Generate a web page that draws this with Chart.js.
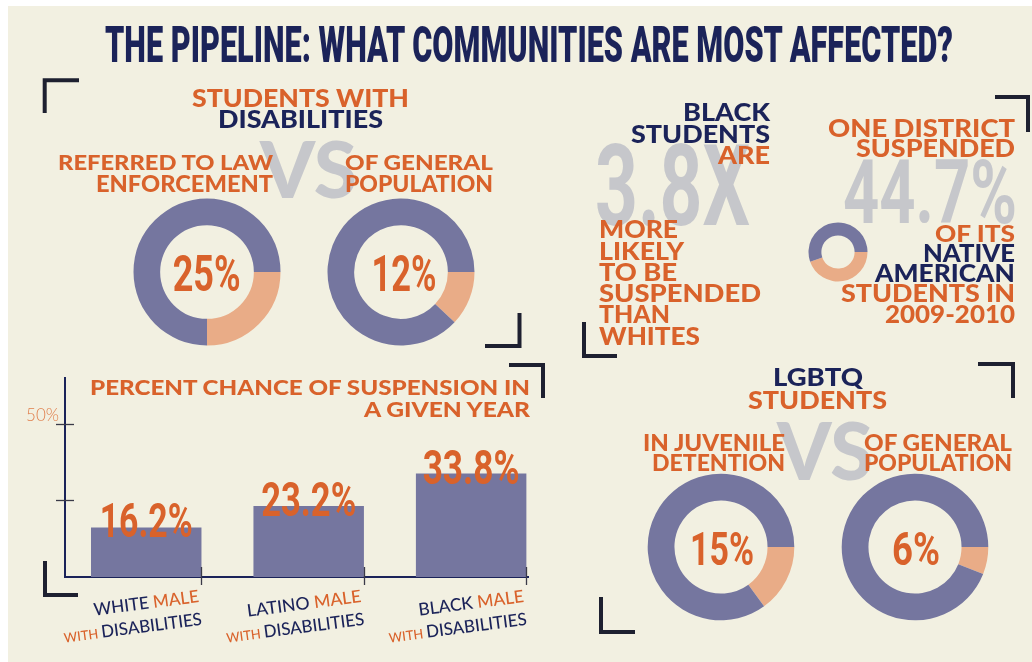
<!DOCTYPE html>
<html><head><meta charset="utf-8">
<script src="https://cdn.jsdelivr.net/npm/chart.js@4.4.1/dist/chart.umd.min.js"></script>
<style>
html,body{margin:0;padding:0;background:#fff;width:1032px;height:662px;overflow:hidden}
#panel{position:absolute;left:8px;top:6px;width:1024px;height:656px;background:#f2f0e1}
canvas{position:absolute}
#ov{position:absolute;left:0;top:0;pointer-events:none}
</style></head><body>
<div id="panel"></div>
<canvas id="dis0" width="160" height="160"></canvas>
<canvas id="dis1" width="160" height="160"></canvas>
<canvas id="nat0" width="70" height="70"></canvas>
<canvas id="lgb0" width="160" height="160"></canvas>
<canvas id="lgb1" width="160" height="160"></canvas>
<canvas id="bars" width="545" height="240"></canvas>
<svg id="ov" width="1032" height="662" xmlns="http://www.w3.org/2000/svg"></svg>
<script>
// ---------------- DATA ----------------
const disabilityShares = [25, 12];
const disabilityCaptions = [["REFERRED TO LAW", "ENFORCEMENT"], ["OF GENERAL", "POPULATION"]];
const lgbtqShares = [15, 6];
const lgbtqCaptions = [["IN JUVENILE", "DETENTION"], ["OF GENERAL", "POPULATION"]];
const nativeSuspendedShare = [44.7];
const blackSuspensionRatio = [3.8];
const barGroups = ["WHITE", "LATINO", "BLACK"];
const barValues = [16.2, 23.2, 33.8];
const yTickValues = [25, 50];
const yTickLabels = ["", "50%"];

// ---------------- STYLE ----------------
const NAVY = '#1b2359', ORANGE = '#d9622b', PURPLE = '#75769f', PEACH = '#e9ac87',
      GRAY = '#c6c7cb', INK = '#1e2030', LIGHTOR = '#e07f4c';
const F = {
  head:  {family: 'Lato', weight: 900, cap: 0.7165},
  label: {family: 'Lato', weight: 500, cap: 0.7165},
  title: {family: 'Roboto', weight: 900, cap: 0.711},
  num:   {family: 'Roboto', weight: 700, cap: 0.711},
  big:   {family: 'Roboto', weight: 700, cap: 0.711}
};
const NS = 'http://www.w3.org/2000/svg';
const ov = document.getElementById('ov');

function txt(parts, x, base, cap, width, font, color, anchor, parent) {
  const t = document.createElementNS(NS, 'text');
  const size = cap / font.cap;
  t.setAttribute('x', x); t.setAttribute('y', base);
  t.setAttribute('font-family', font.family);
  t.setAttribute('font-weight', font.weight);
  t.setAttribute('font-size', size.toFixed(2));
  t.setAttribute('fill', color || NAVY);
  t.setAttribute('text-anchor', anchor || 'start');
  if (width) { t.setAttribute('textLength', width); t.setAttribute('lengthAdjust', 'spacingAndGlyphs'); }
  if (typeof parts === 'string') t.textContent = parts;
  else parts.forEach(p => {
    const s = document.createElementNS(NS, 'tspan');
    s.textContent = p[0];
    if (p[1]) s.setAttribute('fill', p[1]);
    if (p[2]) s.setAttribute('font-size', (size * p[2]).toFixed(2));
    t.appendChild(s);
  });
  (parent || ov).appendChild(t);
  return t;
}
function bracket(d) {
  const p = document.createElementNS(NS, 'path');
  p.setAttribute('d', d); p.setAttribute('fill', 'none');
  p.setAttribute('stroke', INK); p.setAttribute('stroke-width', 4);
  ov.appendChild(p);
}
function place(id, cx, cy) {
  const c = document.getElementById(id);
  c.style.left = (cx - c.width / 2) + 'px';
  c.style.top = (cy - c.height / 2) + 'px';
  return c;
}
function donut(id, cx, cy, share, radius, cutout) {
  const c = place(id, cx, cy);
  return new Chart(c, {
    type: 'doughnut',
    data: {datasets: [{data: [share, 100 - share], backgroundColor: [PEACH, PURPLE], borderWidth: 0}]},
    options: {responsive: false, animation: false, events: [], rotation: 90,
      radius: radius, cutout: cutout, layout: {padding: 0},
      plugins: {legend: {display: false}, tooltip: {enabled: false}}}
  });
}

// ---------------- BACKGROUND GRAY TYPE ----------------
txt('VS', 260, 198, 56, 97, F.head, GRAY);
txt('VS', 777, 480, 57, 96, F.head, GRAY);
txt(blackSuspensionRatio[0].toFixed(1) + 'X', 595, 225, 80, 155, F.big, GRAY);
txt(nativeSuspendedShare[0] + '%', 843, 223, 63, 174, F.big, GRAY);

// ---------------- TITLE ----------------
txt('THE PIPELINE: WHAT COMMUNITIES ARE MOST AFFECTED?', 105, 62, 35, 848, F.title, NAVY);

// ---------------- STUDENTS WITH DISABILITIES ----------------
txt('STUDENTS WITH', 192, 107, 17.5, 217, F.head, ORANGE);
txt('DISABILITIES', 218, 128, 17.5, 165, F.head, NAVY);
const disCap = [[58, 215, 96, 177], [345, 148, 345, 148]];
disabilityCaptions.forEach((c, i) => {
  txt(c[0], disCap[i][0], 170, 15.5, disCap[i][1], F.head, ORANGE);
  txt(c[1], disCap[i][2], 192, 16, disCap[i][3], F.head, ORANGE);
});
const disCenters = [[206.7, 272], [401, 272]];
const disNumW = [68, 65];
disabilityShares.forEach((v, i) => {
  const ch = donut('dis' + i, disCenters[i][0], disCenters[i][1], v, 73.5, 51);
  const a = ch.getDatasetMeta(0).data[0];
  const c = ch.canvas;
  const cx = parseFloat(c.style.left) + a.x + (i ? 3 : 0), cy = parseFloat(c.style.top) + a.y;
  txt(v + '%', cx, cy + 19, 36, disNumW[i], F.num, ORANGE, 'middle');
});

// ---------------- BLACK STUDENTS ----------------
txt('BLACK', 683, 121, 17, 87, F.head, NAVY);
txt('STUDENTS', 631, 143, 17, 139, F.head, NAVY);
txt('ARE', 718, 164, 17, 52, F.head, ORANGE);
const moreLines = [['MORE', 238, 79], ['LIKELY', 259.5, 85], ['TO BE', 280.5, 78],
                   ['SUSPENDED', 302, 162], ['THAN', 323, 71], ['WHITES', 345, 101]];
moreLines.forEach(l => txt(l[0], 599, l[1], 17, l[2], F.head, ORANGE));

// ---------------- NATIVE AMERICAN ----------------
txt('ONE DISTRICT', 828, 137, 18, 187, F.head, ORANGE);
txt('SUSPENDED', 856, 157, 17, 159, F.head, ORANGE);
txt('OF ITS', 935, 242, 16, 80, F.head, ORANGE);
txt('NATIVE', 923, 262, 17, 92, F.head, NAVY);
txt('AMERICAN', 875, 282, 17, 140, F.head, NAVY);
txt('STUDENTS IN', 841, 302, 17, 174, F.head, ORANGE);
txt('2009-2010', 885, 323, 18, 130, F.head, ORANGE);
donut('nat0', 837.5, 251.5, nativeSuspendedShare[0], 29.5, 19.7);

// ---------------- LGBTQ ----------------
txt('LGBTQ', 773, 386, 17, 90, F.head, NAVY);
txt('STUDENTS', 748, 409, 17, 139, F.head, ORANGE);
const lgbCap = [[643, 142, 652, 133], [864, 148, 864, 148]];
lgbtqCaptions.forEach((c, i) => {
  txt(c[0], lgbCap[i][0], 451, 16, lgbCap[i][1], F.head, ORANGE);
  txt(c[1], lgbCap[i][2], 471, 16, lgbCap[i][3], F.head, ORANGE);
});
const lgbCenters = [[721, 547], [915, 547]];
const lgbNumW = [64, 48];
lgbtqShares.forEach((v, i) => {
  const ch = donut('lgb' + i, lgbCenters[i][0], lgbCenters[i][1], v, 73.3, 50.8);
  const a = ch.getDatasetMeta(0).data[0];
  const c = ch.canvas;
  const cx = parseFloat(c.style.left) + a.x + 1, cy = parseFloat(c.style.top) + a.y;
  txt(v + '%', cx, cy + 18, 33.5, lgbNumW[i], F.num, ORANGE, 'middle');
});

// ---------------- BAR CHART ----------------
txt('PERCENT CHANCE OF SUSPENSION IN', 90, 395, 15, 440, F.head, ORANGE);
txt('A GIVEN YEAR', 364, 417, 15, 166, F.head, ORANGE);

const barCanvas = document.getElementById('bars');
barCanvas.style.left = '0px'; barCanvas.style.top = '360px';
const crossTicks = {
  id: 'crossTicks',
  afterDraw(chart) {
    const ctx = chart.ctx, ys = chart.scales.y, ca = chart.chartArea;
    ctx.save();
    ctx.strokeStyle = '#3a3a48'; ctx.lineWidth = 1.3;
    yTickValues.forEach(v => {
      const y = Math.round(ys.getPixelForValue(v)) + 0.5;
      ctx.beginPath(); ctx.moveTo(ca.left - 9, y); ctx.lineTo(ca.left + 9, y); ctx.stroke();
    });
    chart.getDatasetMeta(0).data.forEach(b => {
      const x = Math.round(b.x + b.width / 2) + 0.5;
      ctx.beginPath(); ctx.moveTo(x, ca.bottom - 10); ctx.lineTo(x, ca.bottom + 8); ctx.stroke();
    });
    ctx.restore();
  }
};
const barChart = new Chart(barCanvas, {
  type: 'bar',
  data: {datasets: [{
    data: barGroups.map((g, i) => ({x: i + 0.5, y: barValues[i]})),
    backgroundColor: PURPLE, borderWidth: 0,
    categoryPercentage: 1, barPercentage: 0.68
  }]},
  options: {
    responsive: false, animation: false, events: [],
    layout: {padding: {left: 10, right: 17, top: 18, bottom: 0}},
    plugins: {legend: {display: false}, tooltip: {enabled: false}},
    scales: {
      x: {type: 'linear', min: 0, max: 2.85, offset: false,
          afterBuildTicks: s => { s.ticks = barGroups.map((g, i) => ({value: i + 0.5})); },
          afterFit: s => { s.height = 23; },
          ticks: {display: false}, grid: {display: false, offset: false},
          border: {display: true, color: NAVY, width: 2}},
      y: {min: 0, max: 65,
          afterBuildTicks: s => { s.ticks = yTickValues.map(v => ({value: v})); },
          afterFit: s => { s.width = 55; },
          ticks: {display: true, padding: 6, labelOffset: -8.5, color: LIGHTOR,
                  font: {family: 'Lato', weight: 300, size: 17},
                  callback: (v, i) => yTickLabels[i]},
          grid: {display: false, drawTicks: false},
          border: {display: true, color: NAVY, width: 2}}
    }
  },
  plugins: [crossTicks]
});

const barNumW = [93, 95, 97];
const line1W = [106, 115, 106];
barChart.getDatasetMeta(0).data.forEach((b, i) => {
  const ox = 0, oy = 360;
  txt(barValues[i].toFixed(1) + '%', ox + b.x, oy + b.y + 10, 34, barNumW[i], F.num, ORANGE, 'middle');
  const right = ox + b.x + b.width / 2 - 2;
  const g = document.createElementNS(NS, 'g');
  g.setAttribute('transform', `translate(${right.toFixed(1)},602) rotate(-7.4)`);
  ov.appendChild(g);
  txt([[barGroups[i] + ' ', NAVY], ['MALE', ORANGE]], 0, 0, 12.5, line1W[i], F.label, NAVY, 'end', g);
  txt([['WITH ', ORANGE, 0.76], ['DISABILITIES', NAVY]], 0, 23, 12.5, 139, F.label, NAVY, 'end', g);
});

// ---------------- CORNER BRACKETS ----------------
[
  'M79 80.3 L44.7 80.3 L44.7 113',
  'M519.5 313 L519.5 346 L485 346',
  'M584 322 L584 356 L617 356',
  'M995 97 L1028 97 L1028 132',
  'M509 365 L543 365 L543 398',
  'M45 561 L45 595 L78 595',
  'M978 364 L1013 364 L1013 398',
  'M601 597 L601 632 L635 632'
].forEach(bracket);
</script>
</body></html>
